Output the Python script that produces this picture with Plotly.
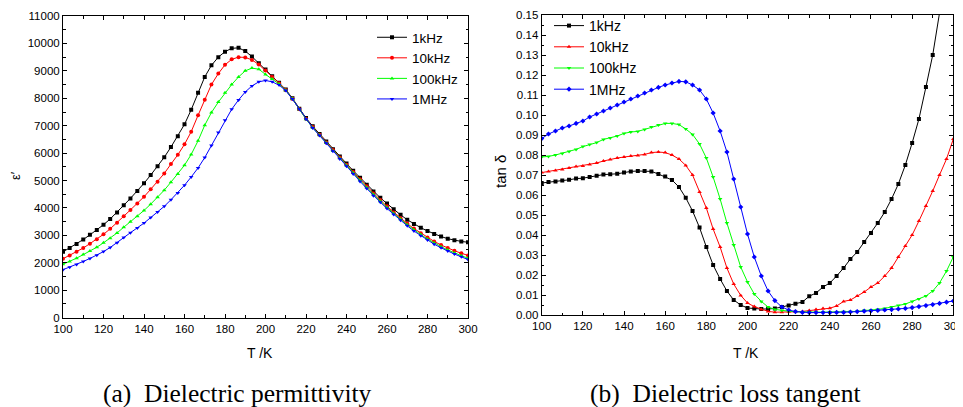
import plotly.graph_objects as go

# Temperature (K) of each measured point
T = [100, 103.3, 106.7, 110, 113.3, 116.7, 120, 123.3, 126.7, 130, 133.3, 136.7,
     140, 143.3, 146.7, 150, 153.3, 156.7, 160, 163.3, 166.7, 170, 173.3, 176.7,
     180, 183.3, 186.7, 190, 193.3, 196.7, 200, 203.3, 206.7, 210, 213.3, 216.7,
     220, 223.3, 226.7, 230, 233.3, 236.7, 240, 243.3, 246.7, 250, 253.3, 256.7,
     260, 263.3, 266.7, 270, 273.3, 276.7, 280, 283.3, 286.7, 290, 293.3, 296.7, 300]

# (a) Dielectric permittivity
eps_1k = [2400, 2540, 2690, 2850, 3020, 3200, 3390, 3600, 3840, 4100, 4350, 4620,
          4900, 5200, 5520, 5850, 6220, 6620, 7050, 7580, 8200, 8780, 9200, 9500,
          9700, 9820, 9840, 9720, 9520, 9280, 9050, 8800, 8570, 8320, 8000, 7620,
          7280, 6980, 6700, 6420, 6140, 5880, 5620, 5360, 5100, 4850, 4600, 4370,
          4160, 3950, 3750, 3570, 3420, 3280, 3160, 3050, 2960, 2880, 2820, 2780, 2750]
eps_10k = [2150, 2270, 2400, 2540, 2700, 2860, 3040, 3240, 3460, 3700, 3930, 4160,
           4410, 4680, 4960, 5260, 5600, 5940, 6320, 6780, 7380, 7950, 8500, 8900,
           9220, 9420, 9500, 9490, 9400, 9230, 9010, 8780, 8550, 8300, 7980, 7600,
           7250, 6950, 6670, 6390, 6110, 5840, 5580, 5310, 5050, 4790, 4530, 4290,
           4060, 3840, 3630, 3430, 3250, 3080, 2920, 2780, 2650, 2540, 2440, 2350, 2270]
eps_100k = [1950, 2050, 2170, 2300, 2430, 2570, 2730, 2900, 3090, 3300, 3500, 3700,
            3910, 4140, 4390, 4650, 4940, 5240, 5560, 5950, 6450, 7020, 7480, 7860,
            8200, 8500, 8780, 9000, 9100, 9060, 8870, 8700, 8520, 8290, 7980, 7600,
            7240, 6930, 6650, 6370, 6080, 5810, 5550, 5280, 5010, 4750, 4490, 4250,
            4020, 3800, 3590, 3390, 3200, 3030, 2870, 2720, 2590, 2470, 2360, 2260, 2170]
eps_1M = [1750, 1840, 1940, 2050, 2160, 2280, 2410, 2560, 2730, 2920, 3100, 3270,
          3450, 3650, 3850, 4060, 4300, 4550, 4830, 5130, 5460, 5840, 6280, 6750,
          7200, 7600, 7940, 8230, 8450, 8600, 8650, 8600, 8480, 8280, 7970, 7600,
          7240, 6920, 6640, 6360, 6070, 5790, 5520, 5240, 4970, 4710, 4450, 4210,
          3980, 3760, 3550, 3350, 3160, 2990, 2830, 2680, 2550, 2430, 2320, 2220, 2120]

# (b) Dielectric loss tangent
tan_1k = [0.0660, 0.0665, 0.0668, 0.0672, 0.0676, 0.0682, 0.0684, 0.0690, 0.0696, 0.0702, 0.0704, 0.0706,
          0.0712, 0.0718, 0.0720, 0.0720, 0.0718, 0.0705, 0.0692, 0.0675, 0.0640, 0.0586, 0.0520, 0.0437,
          0.0340, 0.0250, 0.0180, 0.0120, 0.0075, 0.0050, 0.0035, 0.0032, 0.0030, 0.0030, 0.0033, 0.0040,
          0.0047, 0.0056, 0.0065, 0.0094, 0.0110, 0.0140, 0.0160, 0.0195, 0.0235, 0.0280, 0.0315, 0.0365,
          0.0410, 0.0460, 0.0515, 0.0580, 0.0655, 0.0750, 0.0860, 0.0980, 0.1140, 0.1300, 0.1510, 0.1780, 0.2100]
tan_10k = [0.0712, 0.0718, 0.0722, 0.0728, 0.0735, 0.0742, 0.0745, 0.0752, 0.0760, 0.0770, 0.0778, 0.0785,
           0.0790, 0.0795, 0.0797, 0.0803, 0.0812, 0.0815, 0.0812, 0.0800, 0.0780, 0.0748, 0.0700, 0.0615,
           0.0535, 0.0430, 0.0340, 0.0235, 0.0155, 0.0098, 0.0060, 0.0042, 0.0028, 0.0018, 0.0014, 0.0014,
           0.0016, 0.0016, 0.0018, 0.0022, 0.0028, 0.0032, 0.0034, 0.0045, 0.0068, 0.0075, 0.0095, 0.0115,
           0.0140, 0.0160, 0.0195, 0.0235, 0.0290, 0.0345, 0.0400, 0.0470, 0.0545, 0.0620, 0.0700, 0.0780, 0.0880]
tan_100k = [0.0790, 0.0793, 0.0800, 0.0808, 0.0818, 0.0828, 0.0842, 0.0852, 0.0862, 0.0878, 0.0885, 0.0895,
            0.0908, 0.0915, 0.0918, 0.0928, 0.0940, 0.0950, 0.0958, 0.0958, 0.0952, 0.0930, 0.0903, 0.0855,
            0.0785, 0.0690, 0.0580, 0.0460, 0.0350, 0.0240, 0.0165, 0.0105, 0.0068, 0.0040, 0.0028, 0.0022,
            0.0019, 0.0016, 0.0015, 0.0015, 0.0014, 0.0014, 0.0015, 0.0015, 0.0016, 0.0016, 0.0018, 0.0022,
            0.0024, 0.0028, 0.0033, 0.0040, 0.0048, 0.0055, 0.0068, 0.0080, 0.0095, 0.0120, 0.0160, 0.0220, 0.0290]
tan_1M = [0.0882, 0.0905, 0.0920, 0.0935, 0.0945, 0.0958, 0.0970, 0.0990, 0.1005, 0.1020, 0.1035, 0.1050,
          0.1065, 0.1080, 0.1095, 0.1110, 0.1125, 0.1138, 0.1150, 0.1160, 0.1168, 0.1166, 0.1150, 0.1125,
          0.1080, 0.1010, 0.0920, 0.0815, 0.0680, 0.0540, 0.0405, 0.0290, 0.0195, 0.0120, 0.0072, 0.0040,
          0.0025, 0.0017, 0.0013, 0.0012, 0.0012, 0.0012, 0.0012, 0.0013, 0.0013, 0.0015, 0.0017, 0.0019,
          0.0021, 0.0023, 0.0025, 0.0027, 0.0030, 0.0033, 0.0037, 0.0042, 0.0047, 0.0052, 0.0058, 0.0064, 0.0070]

labels = ["1kHz", "10kHz", "100kHz", "1MHz"]
colors = ["#000000", "#ff0000", "#00ff00", "#0000ff"]
sym_a = ["square", "circle", "triangle-up", "triangle-down"]
sym_b = ["square", "triangle-up", "triangle-down", "diamond"]
eps_ticks = [0, 1000, 2000, 3000, 4000, 5000, 6000, 7000, 8000, 9000, 10000, 11000]
tan_ticks = [0.00, 0.01, 0.02, 0.03, 0.04, 0.05, 0.06, 0.07, 0.08,
             0.09, 0.10, 0.11, 0.12, 0.13, 0.14, 0.15]

# The page body has an 8px margin: the figure is drawn 8px in from the window's corner.
OFF = 8
W, H = 963 - OFF, 407 - OFF
SANS = "Liberation Sans, Arial, sans-serif"
SERIF = "Liberation Serif, Times New Roman, serif"


def fx(px):  # window pixel x -> paper fraction
    return (px - OFF) / W


def fy(py):  # window pixel y (from top) -> paper fraction
    return (H - (py - OFF)) / H


fig = go.Figure()

for name, ys, c, s in zip(labels, [eps_1k, eps_10k, eps_100k, eps_1M], colors, sym_a):
    fig.add_trace(go.Scatter(x=T, y=ys, name=name, mode="lines+markers",
                             line=dict(color=c, width=1), marker=dict(color=c, size=4, symbol=s),
                             xaxis="x", yaxis="y", legend="legend"))
for name, ys, c, s in zip(labels, [tan_1k, tan_10k, tan_100k, tan_1M], colors, sym_b):
    fig.add_trace(go.Scatter(x=T, y=ys, name=name, mode="lines+markers",
                             line=dict(color=c, width=1), marker=dict(color=c, size=4, symbol=s),
                             xaxis="x2", yaxis="y2", legend="legend2"))

tickfont = dict(family=SANS, size=11.5, color="#000")
common = dict(showline=True, linecolor="#000", linewidth=1, mirror="ticks", ticks="inside",
              ticklen=4, tickcolor="#000", tickwidth=1, showgrid=False, zeroline=False,
              tickfont=tickfont, automargin=False, ticklabeloverflow="allow")
minor_x = dict(dtick=10, ticks="inside", ticklen=2.5, tickcolor="#000")

fig.update_layout(
    width=W, height=H, margin=dict(l=0, r=0, t=0, b=0, autoexpand=False),
    paper_bgcolor="white", plot_bgcolor="white",
    font=dict(family=SANS, color="#000"),
    xaxis=dict(domain=[fx(63), fx(468)], range=[100, 300], dtick=20, tick0=100,
               minor=minor_x, anchor="y", **common),
    yaxis=dict(domain=[fy(317.7), fy(16)], range=[0, 11000], tickmode="array",
               tickvals=eps_ticks, ticktext=[str(v) for v in eps_ticks],
               minor=dict(dtick=500, ticks="inside", ticklen=2.5, tickcolor="#000"),
               anchor="x", **common),
    xaxis2=dict(domain=[fx(541.7), fx(953.3)], range=[100, 300], dtick=20, tick0=100,
                minor=minor_x, anchor="y2", **common),
    yaxis2=dict(domain=[fy(315), fy(15)], range=[0, 0.15], tickmode="array",
                tickvals=tan_ticks, ticktext=[f"{v:.2f}" for v in tan_ticks],
                minor=dict(dtick=0.005, ticks="inside", ticklen=2.5, tickcolor="#000"),
                anchor="x2", **common),
    legend=dict(x=fx(372), y=fy(22), xanchor="left", yanchor="top",
                bgcolor="rgba(0,0,0,0)", font=dict(family=SANS, size=13.5),
                tracegroupgap=0, itemwidth=30),
    legend2=dict(x=fx(549), y=fy(10), xanchor="left", yanchor="top",
                 bgcolor="rgba(0,0,0,0)", font=dict(family=SANS, size=14),
                 tracegroupgap=0, itemwidth=30),
    showlegend=True,
)

ann_font = dict(family=SANS, size=14, color="#000")
cap_font = dict(family=SERIF, size=25.5, color="#000")


def note(text, x, y, font, angle=0):
    fig.add_annotation(text=text, x=fx(x), y=fy(y), xref="paper", yref="paper",
                       xanchor="center", yanchor="middle", showarrow=False,
                       textangle=angle, font=font)


note("T /K", 260, 353, ann_font)
note("T /K", 746, 353, ann_font)
note("ε′", 15, 176, dict(family=SANS, size=13, color="#000"), -90)
note("tan δ", 500, 172, dict(family=SANS, size=15, color="#000"), -90)
note("(a)\u00a0\u00a0Dielectric permittivity", 237, 393, cap_font)
note("(b)\u00a0\u00a0Dielectric loss tangent", 725, 393, cap_font)

fig.write_html("out.html")
